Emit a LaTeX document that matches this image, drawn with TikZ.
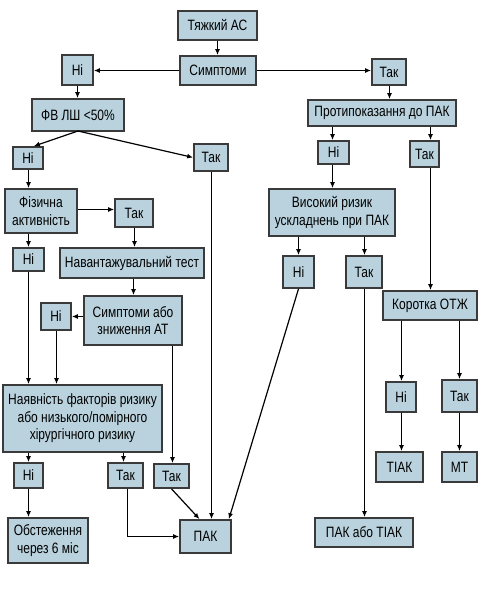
\documentclass[tikz,border=0pt]{standalone}
\usepackage{fontspec}
\setmainfont{Liberation Sans}[FakeStretch=0.8]
\usetikzlibrary{arrows.meta}
\definecolor{boxfill}{HTML}{B9D2DD}
\definecolor{boxdraw}{HTML}{3A3A3A}
\tikzset{
  box/.style={draw=boxdraw, line width=1.7pt, fill=boxfill, inner sep=0pt, align=center,
    font=\fontsize{15}{17.5}\selectfont},
  arr/.style={line width=1.2pt, draw=black, -{Latex[length=6pt,width=5pt]}},
}
\newcommand{\bx}[6]{\node[box, minimum width=#4pt, minimum height=#5pt] (#1) at (#2,#3) {#6};}
\begin{document}
\begin{tikzpicture}[x=1pt,y=-1pt]
\useasboundingbox (0,0) rectangle (478,591);
\bx{tyazh}{217.5}{25.5}{79}{29}{Тяжкий АС}
\bx{sympt}{218}{70.5}{76}{29}{Симптоми}
\bx{ni1}{77.5}{70}{31}{30}{Ні}
\bx{tak1}{389}{72}{34}{26}{Так}
\bx{fv}{78}{115}{92}{32}{ФВ ЛШ <50\%}
\bx{prot}{382}{113}{148}{26}{Протипоказання до ПАК}
\bx{ni2}{28}{158}{30}{22}{Ні}
\bx{tak2}{211}{157.5}{34}{27}{Так}
\bx{ni3}{333.5}{152.5}{31}{23}{Ні}
\bx{tak3}{424.5}{154}{29}{26}{Так}
\bx{fiz}{41}{211}{72}{44}{Фізична\\активність}
\bx{tak4}{134}{213}{38}{28}{Так}
\bx{vys}{332}{212.5}{126}{47}{Високий ризик\\ускладнень при ПАК}
\bx{ni4}{28.5}{259.5}{31}{23}{Ні}
\bx{nav}{132}{263}{144}{30}{Навантажувальний тест}
\bx{ni5}{298.5}{272}{31}{32}{Ні}
\bx{tak5}{364}{272}{36}{32}{Так}
\bx{kor}{430}{305.5}{94}{29}{Коротка ОТЖ}
\bx{sympab}{133}{320.5}{98}{49}{Симптоми або\\зниження АТ}
\bx{ni6}{56}{316.5}{30}{27}{Ні}
\bx{ni7}{401}{397}{30}{30}{Ні}
\bx{tak6}{459.5}{396}{35}{32}{Так}
\bx{nayav}{82.5}{418.5}{159}{67}{Наявність факторів ризику\\або низького/помірного\\хірургічного ризику}
\bx{tiak}{399.5}{467}{47}{30}{ТІАК}
\bx{mt}{459.5}{467}{35}{30}{МТ}
\bx{ni8}{28.5}{475.5}{29}{25}{Ні}
\bx{tak7}{125.5}{475.5}{35}{25}{Так}
\bx{tak8}{171.5}{476}{35}{24}{Так}
\bx{obst}{48}{540.5}{80}{45}{Обстеження\\через 6 міс}
\bx{pak}{205.5}{536.5}{51}{33}{ПАК}
\bx{pakt}{364}{532.5}{98}{29}{ПАК або ТІАК}

% connectors
\draw[arr] (tyazh.south) -- (tyazh.south |- sympt.north);
\draw[arr] (sympt.west |- 0,70.5) -- (ni1.east |- 0,70.5);
\draw[arr] (sympt.east |- 0,70.5) -- (tak1.west |- 0,70.5);
\draw[arr] (ni1.south) -- (ni1.south |- fv.north);
\draw[arr] (tak1.south -| 389.5,0) -- (prot.north -| 389.5,0);
\coordinate (fvb) at (78,131);
\draw[arr] (fvb) -- ([xshift=-10pt]ni2.north east);
\draw[arr] (fvb) -- (tak2.west);
\draw[arr] (ni2.south -| 28.5,0) -- (fiz.north -| 28.5,0);
\draw[arr] (tak2.south -| 211.5,0) -- (pak.north -| 211.5,0);
\draw[arr] (prot.south -| 332.5,0) -- (ni3.north -| 332.5,0);
\draw[arr] (ni3.south -| 332.5,0) -- (vys.north -| 332.5,0);
\draw[arr] (prot.south -| 430.5,0) -- (tak3.north -| 430.5,0);
\draw[arr] (tak3.south -| 430.5,0) -- (kor.north -| 430.5,0);
\draw[arr] (fiz.east |- 0,209.5) -- (tak4.west |- 0,209.5);
\draw[arr] (tak4.south -| 134.5,0) -- (nav.north -| 134.5,0);
\draw[arr] (nav.south -| 133.5,0) -- (sympab.north -| 133.5,0);
\draw[arr] (sympab.west |- ni6) -- (ni6.east);
\draw[arr] (fiz.south -| ni4) -- (ni4.north);
\draw[arr] (ni4.south) -- (ni4.south |- nayav.north);
\draw[arr] (ni6.south -| 56.5,0) -- (nayav.north -| 56.5,0);
\draw[arr] (sympab.south -| 172.5,0) -- (tak8.north -| 172.5,0);
\draw[arr] (vys.south -| ni5) -- (ni5.north);
\draw[arr] (vys.south -| 364.5,0) -- (tak5.north -| 364.5,0);
\draw[arr] (ni5.south) -- ([xshift=-3pt]pak.north east);
\draw[arr] (tak5.south -| 364.5,0) -- (pakt.north -| 364.5,0);
\draw[arr] (kor.south -| 401.5,0) -- (ni7.north -| 401.5,0);
\draw[arr] (kor.south -| tak6) -- (tak6.north);
\draw[arr] (ni7.south -| 401.5,0) -- (tiak.north -| 401.5,0);
\draw[arr] (tak6) -- (mt);
\draw[arr] (nayav.south -| ni8) -- (ni8.north);
\draw[arr] (nayav.south -| 123.5,0) -- (tak7.north -| 123.5,0);
\draw[arr] (ni8.south) -- (obst.north -| ni8);
\draw[arr] (tak7.south -| 127.5,0) |- (pak.west);
\draw[arr] (tak8.south) -- ([xshift=-6pt]pak.north);
\end{tikzpicture}
\end{document}
